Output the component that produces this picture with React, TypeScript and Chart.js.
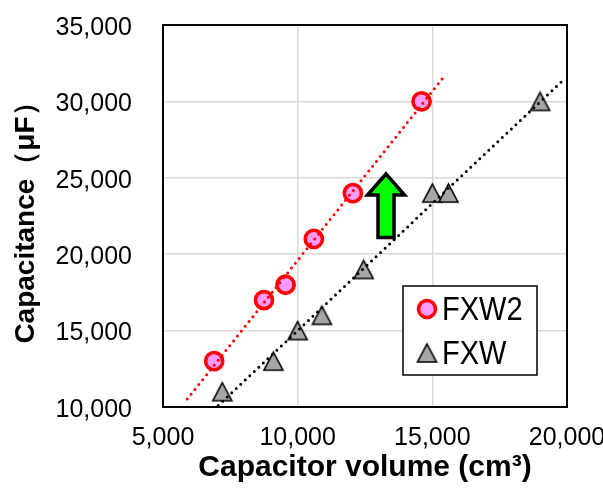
import { useEffect, useRef } from "react";
import { Chart, registerables } from "chart.js";

Chart.register(...registerables);

// ---- data ----
const seriesNames = ["FXW2", "FXW"];
const fxw2Volume = [6900, 8750, 9550, 10600, 12050, 14600];
const fxw2Capacitance = [13000, 17000, 18000, 21000, 24000, 30000];
const fxwVolume = [7200, 9100, 10000, 10900, 12450, 15000, 15600, 19000];
const fxwCapacitance = [11000, 13000, 15000, 16000, 19000, 24000, 24000, 30000];
const xRange = [5000, 20000];
const yRange = [10000, 35000];
const tickStep = 5000;
const fxw2TrendRange = [5900, 15500];
const fxwTrendRange = [7050, 19900];
const arrowVolume = 13280;
const arrowFrom = 21100;
const arrowTo = 25250;

const xTitle = "Capacitor volume (cm³)";
const yTitle = "Capacitance（μF）";

const FONT = "'Liberation Sans', Arial, sans-serif";

function linearFit(xs: number[], ys: number[]) {
  const n = xs.length;
  const mx = xs.reduce((a, b) => a + b, 0) / n;
  const my = ys.reduce((a, b) => a + b, 0) / n;
  let sxy = 0;
  let sxx = 0;
  for (let i = 0; i < n; i++) {
    sxy += (xs[i] - mx) * (ys[i] - my);
    sxx += (xs[i] - mx) * (xs[i] - mx);
  }
  const slope = sxy / sxx;
  return (x: number) => my + slope * (x - mx);
}

function trendPoints(xs: number[], ys: number[], range: number[]) {
  const f = linearFit(xs, ys);
  return range.map((x) => ({ x, y: f(x) }));
}

function makeTriangleImage() {
  const w = 23;
  const h = 22;
  const c = document.createElement("canvas");
  c.width = w;
  c.height = h;
  const g = c.getContext("2d")!;
  const tw = 19;
  const th = 18;
  const cx = w / 2;
  const cy = h / 2;
  g.beginPath();
  g.moveTo(cx, cy - th / 2);
  g.lineTo(cx + tw / 2, cy + th / 2);
  g.lineTo(cx - tw / 2, cy + th / 2);
  g.closePath();
  g.fillStyle = "#A6A6A6";
  g.fill();
  g.lineWidth = 1.6;
  g.lineJoin = "miter";
  g.strokeStyle = "#000";
  g.stroke();
  return c;
}

const framePlugin = {
  id: "frame",
  beforeDatasetsDraw(chart: any) {
    const { ctx, chartArea } = chart;
    ctx.save();
    ctx.strokeStyle = "#000";
    ctx.lineWidth = 2;
    ctx.strokeRect(chartArea.left, chartArea.top, chartArea.right - chartArea.left, chartArea.bottom - chartArea.top);
    ctx.restore();
  },
};

const arrowPlugin = {
  id: "arrow",
  afterDatasetsDraw(chart: any) {
    const { ctx, scales } = chart;
    const cx = scales.x.getPixelForValue(arrowVolume);
    const yb = scales.y.getPixelForValue(arrowFrom);
    const yt = scales.y.getPixelForValue(arrowTo);
    const shaft = 8;
    const head = 18.5;
    const headLen = 21;
    ctx.save();
    ctx.beginPath();
    ctx.moveTo(cx - shaft, yb);
    ctx.lineTo(cx - shaft, yt + headLen);
    ctx.lineTo(cx - head, yt + headLen);
    ctx.lineTo(cx, yt);
    ctx.lineTo(cx + head, yt + headLen);
    ctx.lineTo(cx + shaft, yt + headLen);
    ctx.lineTo(cx + shaft, yb);
    ctx.closePath();
    ctx.fillStyle = "#00FF00";
    ctx.fill();
    ctx.lineWidth = 3.5;
    ctx.lineJoin = "miter";
    ctx.strokeStyle = "#000";
    ctx.stroke();
    ctx.restore();
  },
};

function makeLegendPlugin(tri: HTMLCanvasElement) {
  return {
    id: "boxLegend",
    afterDatasetsDraw(chart: any) {
      const { ctx, chartArea } = chart;
      const left = chartArea.right - 164;
      const top = chartArea.bottom - 121;
      const w = 134;
      const h = 89;
      ctx.save();
      ctx.fillStyle = "#fff";
      ctx.fillRect(left, top, w, h);
      ctx.strokeStyle = "#000";
      ctx.lineWidth = 1.5;
      ctx.strokeRect(left, top, w, h);
      // circle marker
      const mx = left + 24;
      ctx.beginPath();
      ctx.arc(mx, top + 23, 8.5, 0, Math.PI * 2);
      ctx.fillStyle = "#FF99FF";
      ctx.fill();
      ctx.lineWidth = 3.5;
      ctx.strokeStyle = "#FF0000";
      ctx.stroke();
      // triangle marker
      ctx.drawImage(tri, mx - tri.width / 2, top + 67 - tri.height / 2);
      // text (slightly condensed)
      ctx.fillStyle = "#000";
      ctx.font = `33px ${FONT}`;
      ctx.textAlign = "left";
      ctx.textBaseline = "alphabetic";
      const drawLabel = (text: string, x: number, y: number) => {
        ctx.save();
        ctx.translate(x, y);
        ctx.scale(0.88, 1);
        ctx.fillText(text, 0, 0);
        ctx.restore();
      };
      drawLabel(seriesNames[0], left + 39, top + 34);
      drawLabel(seriesNames[1], left + 39, top + 78);
      ctx.restore();
    },
  };
}

export default function App() {
  const ref = useRef<HTMLCanvasElement | null>(null);

  useEffect(() => {
    document.body.style.margin = "0";
    const canvas = ref.current;
    if (!canvas) return;
    const tri = makeTriangleImage();

    const chart = new Chart(canvas, {
      type: "scatter",
      data: {
        datasets: [
          {
            type: "line",
            label: "FXW2 trend",
            data: trendPoints(fxw2Volume, fxw2Capacitance, fxw2TrendRange),
            borderColor: "#FF0000",
            borderWidth: 3,
            borderDash: [0, 6.2],
            borderCapStyle: "round",
            pointRadius: 0,
            fill: false,
            order: 0,
          } as any,
          {
            type: "line",
            label: "FXW trend",
            data: trendPoints(fxwVolume, fxwCapacitance, fxwTrendRange),
            borderColor: "#000000",
            borderWidth: 3,
            borderDash: [0, 6.2],
            borderCapStyle: "round",
            pointRadius: 0,
            fill: false,
            order: 0,
          } as any,
          {
            label: seriesNames[0],
            data: fxw2Volume.map((x, i) => ({ x, y: fxw2Capacitance[i] })),
            pointStyle: "circle",
            pointRadius: 8.6,
            pointBorderWidth: 3.6,
            pointBackgroundColor: "#FF99FF",
            pointBorderColor: "#FF0000",
            order: 1,
          },
          {
            label: seriesNames[1],
            data: fxwVolume.map((x, i) => ({ x, y: fxwCapacitance[i] })),
            pointStyle: tri,
            pointRadius: 11,
            order: 1,
          } as any,
        ],
      },
      options: {
        animation: false,
        responsive: false,
        devicePixelRatio: 1,
        layout: { padding: { top: 25, right: 36, left: 0, bottom: 0 } },
        plugins: {
          legend: { display: false },
          tooltip: { enabled: false },
        },
        scales: {
          x: {
            type: "linear",
            min: xRange[0],
            max: xRange[1],
            ticks: {
              stepSize: tickStep,
              color: "#000",
              padding: 16,
              font: { family: FONT, size: 25 },
              maxRotation: 0,
            },
            grid: { color: "#D9D9D9", lineWidth: 1.5, drawTicks: false },
            border: { display: false },
            title: {
              display: true,
              text: xTitle,
              color: "#000",
              font: { family: FONT, size: 30, weight: "bold" },
              padding: { top: 0, bottom: 6 },
            },
            afterFit(scale: any) {
              scale.height = 85;
              scale.paddingLeft = 0;
              scale.paddingRight = 0;
            },
          },
          y: {
            type: "linear",
            min: yRange[0],
            max: yRange[1],
            ticks: {
              stepSize: tickStep,
              color: "#000",
              padding: 31,
              labelOffset: 3,
              font: { family: FONT, size: 25 },
            },
            grid: { color: "#D9D9D9", lineWidth: 1.5, drawTicks: false },
            border: { display: false },
            title: {
              display: true,
              text: yTitle,
              color: "#000",
              font: { family: FONT, size: 28, weight: "bold" },
              padding: { top: 9, bottom: 0 },
            },
            afterFit(scale: any) {
              scale.width = 163;
              scale.paddingTop = 0;
              scale.paddingBottom = 0;
            },
          },
        },
      },
      plugins: [framePlugin, arrowPlugin, makeLegendPlugin(tri)],
    });

    return () => chart.destroy();
  }, []);

  return (
    <div style={{ width: 603, height: 492 }}>
      <canvas ref={ref} width={603} height={492} style={{ display: "block" }} />
    </div>
  );
}
